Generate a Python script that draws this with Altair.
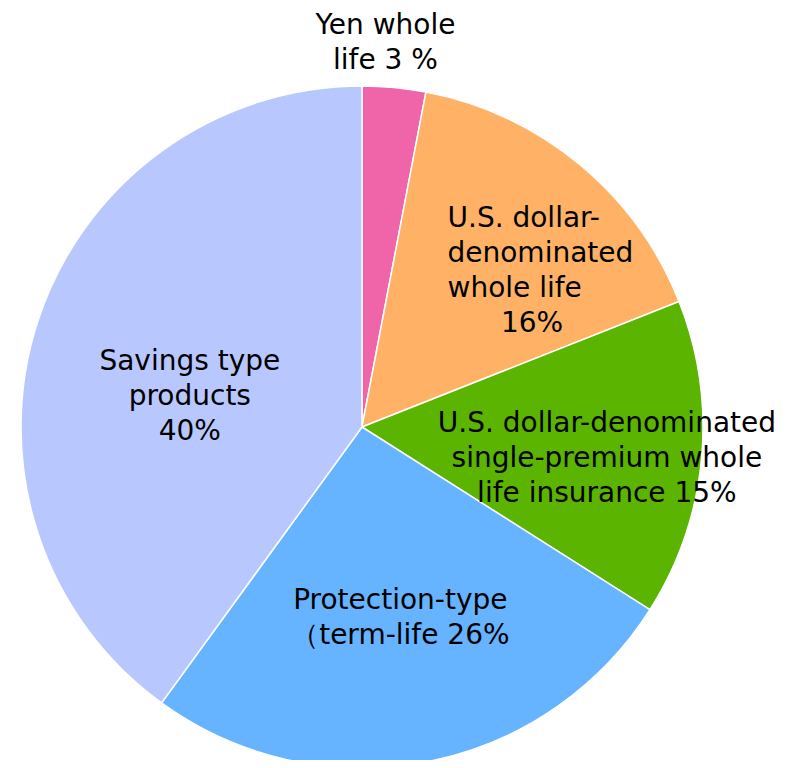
import math
import altair as alt
import pandas as pd

categories = [
    "Yen whole life",
    "U.S. dollar-denominated whole life",
    "U.S. dollar-denominated single-premium whole life insurance",
    "Protection-type (term-life)",
    "Savings type products",
]
values = [3, 16, 15, 26, 40]
labels = [
    "Yen whole\nlife 3 %",
    "U.S. dollar-\ndenominated\nwhole life\n\u200b\u00a0\u00a0\u00a0\u00a0\u00a0\u00a016%",
    "U.S. dollar-denominated\nsingle-premium whole\nlife insurance 15%",
    "Protection-type\n\uff08term-life 26%",
    "Savings type\nproducts\n40%",
]
colors = ["#F064AA", "#FFB266", "#5AB400", "#66B3FF", "#B8C8FF"]

# label layout (radius from centre, offsets, alignment)
label_radius = [387, 200, 247, 194, 180]
label_dx = [-13, -42, -1, 2, -1]
label_dy = [-16, -54, -26, -17, -9]
label_align = ["center", "left", "center", "center", "center"]

total = sum(values)
mids = []
cum = 0
for v in values:
    mids.append(2 * math.pi * (cum + v / 2) / total)
    cum += v

df = pd.DataFrame({
    "category": categories,
    "value": values,
    "label": labels,
    "order": list(range(len(values))),
    "mid": mids,
})

CX, CY, R = 354, 419, 341

pie = alt.Chart(df).mark_arc(outerRadius=R, stroke="white", strokeWidth=1.5).encode(
    theta=alt.Theta("value:Q", stack=True),
    order=alt.Order("order:Q"),
    color=alt.Color("category:N", scale=alt.Scale(domain=categories, range=colors), legend=None),
    x=alt.value(CX),
    y=alt.value(CY),
)

layers = [pie]
for i, cat in enumerate(categories):
    t = alt.Chart(df).transform_filter(
        alt.datum.category == cat
    ).mark_text(
        radius=label_radius[i],
        dx=label_dx[i],
        dy=label_dy[i],
        align=label_align[i],
        baseline="middle",
        lineBreak="\n",
        lineHeight=35,
        fontSize=28,
        font="DejaVu Sans",
        color="#000000",
    ).encode(
        theta=alt.Theta("mid:Q", scale=None),
        text=alt.Text("label:N"),
        x=alt.value(CX),
        y=alt.value(CY),
    )
    layers.append(t)

chart = alt.layer(*layers).properties(
    width=785, height=752, padding=0, autosize=alt.AutoSizeParams(type="none")
).configure_view(stroke=None)

chart.save("out.html", embed_options={"renderer": "svg", "actions": False})
